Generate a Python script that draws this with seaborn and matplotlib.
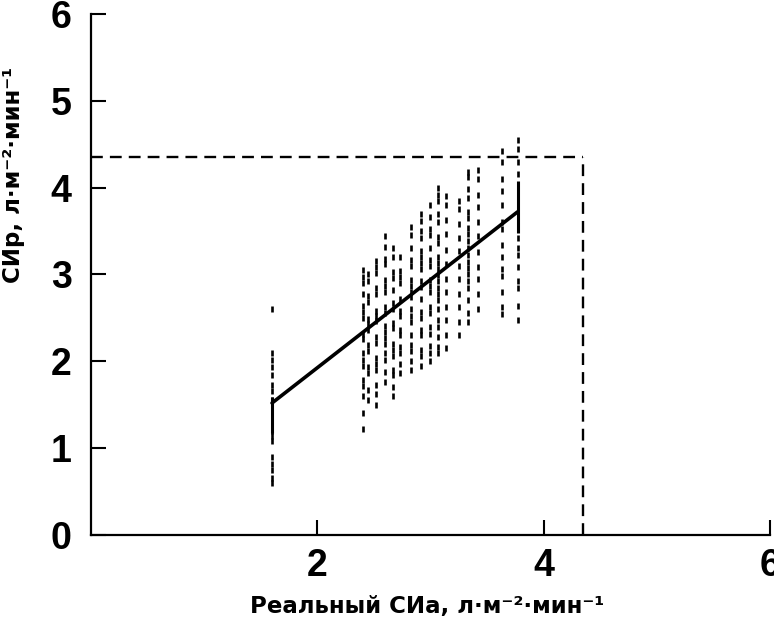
import numpy as np
import pandas as pd
import matplotlib
matplotlib.use("Agg")
import matplotlib.pyplot as plt
import seaborn as sns

col_x = [1.6, 2.4, 2.45, 2.52, 2.6, 2.67, 2.73, 2.83, 2.92, 3.0, 3.07, 3.14, 3.25, 3.33, 3.42, 3.63, 3.77]
col_y = [
    [0.6, 0.66, 0.75, 0.82, 0.9, 1.08, 1.14, 1.2, 1.27, 1.33, 1.4, 1.47, 1.55, 1.66, 1.73, 1.84, 1.93, 2.02, 2.1, 2.6],
    [1.22, 1.41, 1.6, 1.72, 1.79, 1.95, 2.02, 2.09, 2.26, 2.32, 2.5, 2.57, 2.64, 2.78, 2.9, 2.97, 3.05],
    [1.55, 1.67, 1.86, 1.93, 2.12, 2.19, 2.36, 2.43, 2.49, 2.68, 2.75, 2.93, 3.0],
    [1.5, 1.62, 1.73, 1.9, 1.97, 2.04, 2.21, 2.28, 2.46, 2.52, 2.58, 2.77, 2.84, 3.02, 3.09, 3.16],
    [1.76, 1.88, 2.02, 2.09, 2.2, 2.27, 2.34, 2.41, 2.56, 2.63, 2.8, 2.87, 2.94, 3.12, 3.18, 3.32, 3.44],
    [1.6, 1.71, 1.84, 1.9, 2.06, 2.13, 2.2, 2.38, 2.44, 2.6, 2.67, 2.82, 2.96, 3.03, 3.2, 3.3],
    [1.86, 1.97, 2.1, 2.17, 2.3, 2.36, 2.52, 2.58, 2.72, 2.9, 2.97, 3.04, 3.2],
    [1.9, 2.0, 2.12, 2.19, 2.3, 2.45, 2.52, 2.6, 2.74, 2.8, 2.87, 2.94, 3.1, 3.17, 3.3, 3.45, 3.55],
    [1.95, 2.06, 2.13, 2.3, 2.36, 2.5, 2.57, 2.72, 2.86, 2.93, 3.06, 3.13, 3.2, 3.27, 3.42, 3.5, 3.62, 3.7],
    [2.0, 2.1, 2.18, 2.32, 2.4, 2.56, 2.63, 2.8, 2.87, 2.94, 3.1, 3.17, 3.3, 3.45, 3.52, 3.66, 3.8],
    [2.1, 2.17, 2.28, 2.4, 2.47, 2.6, 2.7, 2.77, 2.84, 2.92, 2.99, 3.06, 3.13, 3.2, 3.36, 3.43, 3.6, 3.7, 3.84, 3.92, 4.0],
    [2.15, 2.3, 2.48, 2.62, 2.8, 2.95, 3.12, 3.28, 3.46, 3.63, 3.8, 3.9],
    [2.3, 2.45, 2.62, 2.78, 2.95, 3.1, 3.27, 3.42, 3.58, 3.75, 3.85],
    [2.45, 2.56, 2.7, 2.84, 2.92, 3.0, 3.07, 3.14, 3.22, 3.3, 3.38, 3.46, 3.54, 3.65, 3.72, 3.88, 3.98, 4.12, 4.18],
    [2.6, 2.78, 2.95, 3.08, 3.26, 3.44, 3.6, 3.78, 3.92, 4.1, 4.2],
    [2.55, 2.62, 2.8, 2.98, 3.06, 3.2, 3.34, 3.52, 3.6, 3.8, 3.96, 4.1, 4.3, 4.42],
    [2.48, 2.64, 2.84, 2.92, 3.08, 3.22, 3.3, 3.42, 3.9, 4.16, 4.3, 4.44, 4.55],
]

# regression line end points
fit_x = [1.6, 3.77]
fit_y = [1.52, 3.72]

# solid vertical bits at both ends of the line
bar_x = [1.6, 3.77]
bar_lo = [1.18, 3.48]
bar_hi = [1.59, 4.07]

# dashed limit box
limit = 4.35

x_ticks = [2, 4, 6]
y_ticks = [0, 1, 2, 3, 4, 5, 6]

df = pd.DataFrame({
    "x": np.concatenate([[x] * len(ys) for x, ys in zip(col_x, col_y)]),
    "y": np.concatenate(col_y),
})

sns.set_style("white")
plt.rcParams["font.family"] = ["Liberation Sans", "DejaVu Sans"]

fig = plt.figure(figsize=(7.74, 6.28), dpi=100)
ax = fig.add_axes([0.1176, 0.148, 0.877, 0.830])

sns.scatterplot(data=df, x="x", y="y", marker="|", s=24, color="black",
                linewidth=1.9, ax=ax, legend=False)
sns.lineplot(x=fit_x, y=fit_y, color="black", linewidth=2.6, ax=ax)
ax.vlines(bar_x, bar_lo, bar_hi, color="black", linewidth=2.2)

ax.plot([0, limit], [limit, limit], color="black", lw=1.7, ls=(0, (5, 3)))
ax.plot([limit, limit], [0, limit], color="black", lw=1.7, ls=(0, (5, 3)))

ax.set_xlim(0, 6)
ax.set_ylim(0, 6)
ax.set_xticks(x_ticks)
ax.set_yticks(y_ticks)
ax.tick_params(axis="both", direction="in", length=11, width=1.5,
               labelsize=27, colors="black", left=True, bottom=True)
ax.tick_params(axis="y", pad=14)
ax.tick_params(axis="x", pad=9)
for lab in ax.get_xticklabels() + ax.get_yticklabels():
    lab.set_fontweight("bold")

for side in ["top", "right"]:
    ax.spines[side].set_visible(False)
for side in ["left", "bottom"]:
    ax.spines[side].set_linewidth(1.6)
    ax.spines[side].set_color("black")

ax.set_xlabel("Реальный СИа, л·м⁻²·мин⁻¹", fontsize=16.5, fontweight="bold",
              family=["DejaVu Sans"], color="black")
ax.set_ylabel("СИр, л·м⁻²·мин⁻¹", fontsize=16.5, fontweight="bold",
              family=["DejaVu Sans"], color="black")
ax.xaxis.set_label_coords(0.495, -0.115)
ax.yaxis.set_label_coords(-0.097, 0.69)

fig.savefig("out.png", dpi=100)
